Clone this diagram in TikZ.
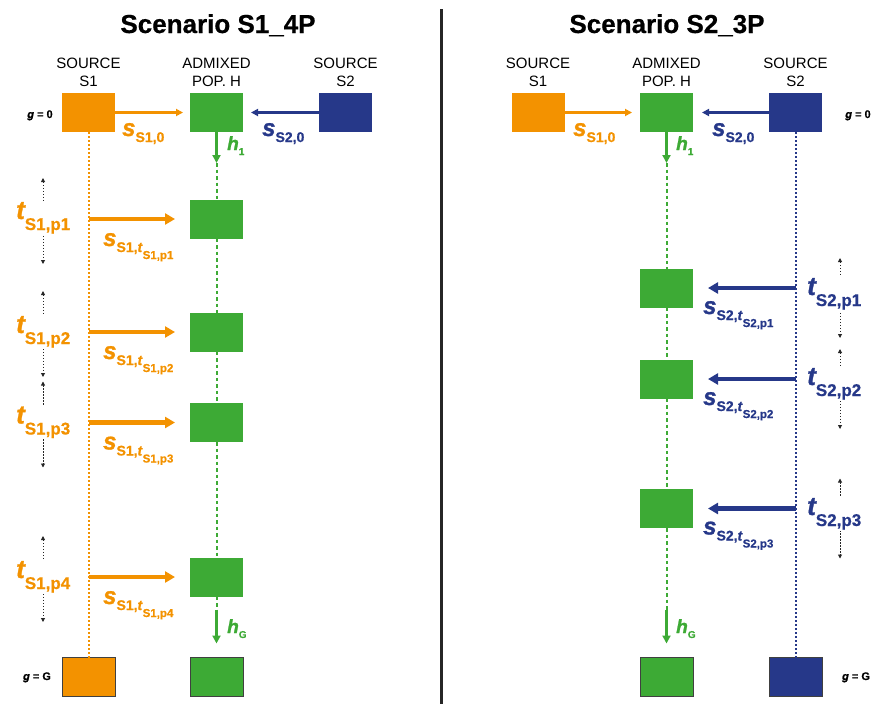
\documentclass[tikz,border=0pt]{standalone}
\usepackage{fontspec}
\setmainfont{Liberation Sans}[BoldFeatures={FakeBold=0.6}, BoldItalicFeatures={FakeBold=1.2}]
\usetikzlibrary{arrows.meta, positioning}

\definecolor{srcorange}{RGB}{243,146,0}
\definecolor{admgreen}{RGB}{61,170,53}
\definecolor{srcblue}{RGB}{38,56,137}

\newcommand{\fsz}[1]{\fontsize{#1}{#1}\selectfont}
\newcommand{\sLab}[1]{{\fsz{24}\bfseries\itshape s}\raisebox{-6pt}{\fsz{14}\bfseries #1}}
\newcommand{\sTLab}[2]{{\fsz{24}\bfseries\itshape s}\raisebox{-6pt}{\fsz{14}\bfseries #1,\textit{t}}\raisebox{-13pt}{\fsz{11.5}\bfseries #2}}
\newcommand{\tLab}[1]{{\fsz{26}\bfseries\itshape t}\raisebox{-11pt}{\fsz{17}\bfseries #1}}
\newcommand{\hLab}[1]{{\fsz{19}\bfseries\itshape h}\raisebox{-5pt}{\fsz{10}\bfseries #1}}
\newcommand{\gLab}[1]{{\fsz{11}\bfseries\textit{g} = #1}}

\tikzset{
    box/.style={minimum width=53pt, minimum height=39pt, inner sep=0pt, outer sep=0pt},
    orgbox/.style={box, fill=srcorange},
    grnbox/.style={box, fill=admgreen},
    blubox/.style={box, fill=srcblue},
    endbox/.style={draw=black!75, line width=0.8pt},
    hdr/.style={align=center, font=\fontsize{15}{18}\selectfont},
    ttl/.style={anchor=base, font=\fsz{26}\bfseries},
    thinarr/.style={line width=2.2pt, -{Triangle[length=7pt,width=7pt]}},
    thickarr/.style={line width=4.5pt, shorten >=15pt, -{Triangle[length=10pt,width=11pt]}},
    harr/.style={admgreen, line width=2.4pt, -{Triangle[length=8pt,width=8pt]}},
    gdash/.style={admgreen, line width=2pt, dash pattern=on 3.5pt off 3pt},
    srcdot/.style={line width=2pt, dash pattern=on 2pt off 2pt},
    rangearr/.style={black!85, line width=0.9pt, dash pattern=on 1.5pt off 1.5pt, {Triangle[length=4pt,width=4pt]}-{Triangle[length=4pt,width=4pt]}},
    lab/.style={anchor=base west, inner sep=0pt},
    tlab/.style={anchor=base west, inner sep=1pt, fill=white},
    glab/.style={anchor=base, inner sep=0pt}
}

\begin{document}
\begin{tikzpicture}[x=1pt, y=-1pt]
    \useasboundingbox (0,0) rectangle (872,704);

    % titles and divider
    \node[ttl] (ttlA) at (218,33) {Scenario S1\_4P};
    \node[ttl] (ttlB) at (667,33) {Scenario S2\_3P};
    \draw[black!85, line width=2.5pt] (441.5,9) -- (441.5,704);

    % ---- scenario S1_4P ----
    \node[hdr] (lhS1) at (88.5,72) {SOURCE\\S1};
    \node[hdr] (lhH) at (216.5,72) {ADMIXED\\POP. H};
    \node[hdr] (lhS2) at (345.5,72) {SOURCE\\S2};

    \node[orgbox] (lS1) at (88.5,112.5) {};
    \node[grnbox] (lH) at (216.5,112.5) {};
    \node[blubox] (lS2) at (345.5,112.5) {};
    \node[grnbox] (lH1) at (216.5,219) {};
    \node[grnbox] (lH2) at (216.5,332) {};
    \node[grnbox] (lH3) at (216.5,422.5) {};
    \node[grnbox] (lH4) at (216.5,577) {};
    \node[orgbox, endbox] (lS1G) at (88.5,677) {};
    \node[grnbox, endbox] (lHG) at (216.5,677) {};

    \coordinate (lh1) at (216.5,163);
    \coordinate (lhG) at (216.5,610);

    \draw[srcdot, srcorange] (lS1) -- (lS1G);
    \draw[gdash] (lh1) -- (lH1) (lH1) -- (lH2) (lH2) -- (lH3)
        (lH3) -- (lH4) (lH4) -- (lhG);
    \draw[harr] (lH) -- (lh1);
    \draw[harr, shorten >=14pt] (lhG) -- (lHG);

    \draw[thinarr, srcorange, shorten >=7pt] (lS1) -- (lH);
    \draw[thinarr, srcblue, shorten >=8pt] (lS2) -- (lH);
    \draw[thickarr, srcorange] (lS1 |- lH1) -- (lH1);
    \draw[thickarr, srcorange] (lS1 |- lH2) -- (lH2);
    \draw[thickarr, srcorange] (lS1 |- lH3) -- (lH3);
    \draw[thickarr, srcorange] (lS1 |- lH4) -- (lH4);

    \draw[rangearr] (43,178) -- (43,264);
    \draw[rangearr] (43,291) -- (43,377);
    \draw[rangearr] (43,381.5) -- (43,467.5);
    \draw[rangearr] (43,536) -- (43,622);

    \node[glab] (lg0) at (40,118) {\gLab{0}};
    \node[glab] (lgG) at (37,680) {\gLab{G}};
    \node[lab, srcorange] (ls10) at (122,136) {\sLab{S1,0}};
    \node[lab, srcblue] (ls20) at (262,136) {\sLab{S2,0}};
    \node[lab, admgreen] (lh1l) at (227,150) {\hLab{1}};
    \node[lab, admgreen] (lhGl) at (227,633) {\hLab{G}};

    \node[tlab, text=srcorange] (lt1) at (15,219) {\tLab{S1,p1}};
    \node[tlab, text=srcorange] (lt2) at (15,333) {\tLab{S1,p2}};
    \node[tlab, text=srcorange] (lt3) at (15,423.5) {\tLab{S1,p3}};
    \node[tlab, text=srcorange] (lt4) at (15,578) {\tLab{S1,p4}};
    \node[lab, srcorange] (ls1) at (103,246) {\sTLab{S1}{S1,p1}};
    \node[lab, srcorange] (ls2) at (103,359) {\sTLab{S1}{S1,p2}};
    \node[lab, srcorange] (ls3) at (103,449.5) {\sTLab{S1}{S1,p3}};
    \node[lab, srcorange] (ls4) at (103,604) {\sTLab{S1}{S1,p4}};

    % ---- scenario S2_3P ----
    \node[hdr] (rhS1) at (538,72) {SOURCE\\S1};
    \node[hdr] (rhH) at (666.5,72) {ADMIXED\\POP. H};
    \node[hdr] (rhS2) at (795.5,72) {SOURCE\\S2};

    \node[orgbox] (rS1) at (538,112.5) {};
    \node[grnbox] (rH) at (666.5,112.5) {};
    \node[blubox] (rS2) at (795.5,112.5) {};
    \node[grnbox] (rH1) at (666.5,288) {};
    \node[grnbox] (rH2) at (666.5,379) {};
    \node[grnbox] (rH3) at (666.5,508.5) {};
    \node[grnbox, endbox] (rHG) at (666.5,677) {};
    \node[blubox, endbox] (rS2G) at (795.5,677) {};

    \coordinate (rh1) at (666.5,163);
    \coordinate (rhG) at (666.5,610);

    \draw[srcdot, srcblue] (rS2) -- (rS2G);
    \draw[gdash] (rh1) -- (rH1) (rH1) -- (rH2) (rH2) -- (rH3) (rH3) -- (rhG);
    \draw[harr] (rH) -- (rh1);
    \draw[harr, shorten >=14pt] (rhG) -- (rHG);

    \draw[thinarr, srcorange, shorten >=8pt] (rS1) -- (rH);
    \draw[thinarr, srcblue, shorten >=9pt] (rS2) -- (rH);
    \draw[thickarr, srcblue] (rS2 |- rH1) -- (rH1);
    \draw[thickarr, srcblue] (rS2 |- rH2) -- (rH2);
    \draw[thickarr, srcblue] (rS2 |- rH3) -- (rH3);

    \draw[rangearr] (840,258) -- (840,338);
    \draw[rangearr] (840,349) -- (840,429);
    \draw[rangearr] (840,478.5) -- (840,558.5);

    \node[glab] (rg0) at (858,118) {\gLab{0}};
    \node[glab] (rgG) at (856,680) {\gLab{G}};
    \node[lab, srcorange] (rs10) at (573,136) {\sLab{S1,0}};
    \node[lab, srcblue] (rs20) at (712,136) {\sLab{S2,0}};
    \node[lab, admgreen] (rh1l) at (676,150) {\hLab{1}};
    \node[lab, admgreen] (rhGl) at (676,633) {\hLab{G}};

    \node[tlab, text=srcblue] (rt1) at (806,295) {\tLab{S2,p1}};
    \node[tlab, text=srcblue] (rt2) at (806,385) {\tLab{S2,p2}};
    \node[tlab, text=srcblue] (rt3) at (806,515) {\tLab{S2,p3}};
    \node[lab, srcblue] (rs1) at (703,314) {\sTLab{S2}{S2,p1}};
    \node[lab, srcblue] (rs2) at (703,405) {\sTLab{S2}{S2,p2}};
    \node[lab, srcblue] (rs3) at (703,534.5) {\sTLab{S2}{S2,p3}};
\end{tikzpicture}
\end{document}
